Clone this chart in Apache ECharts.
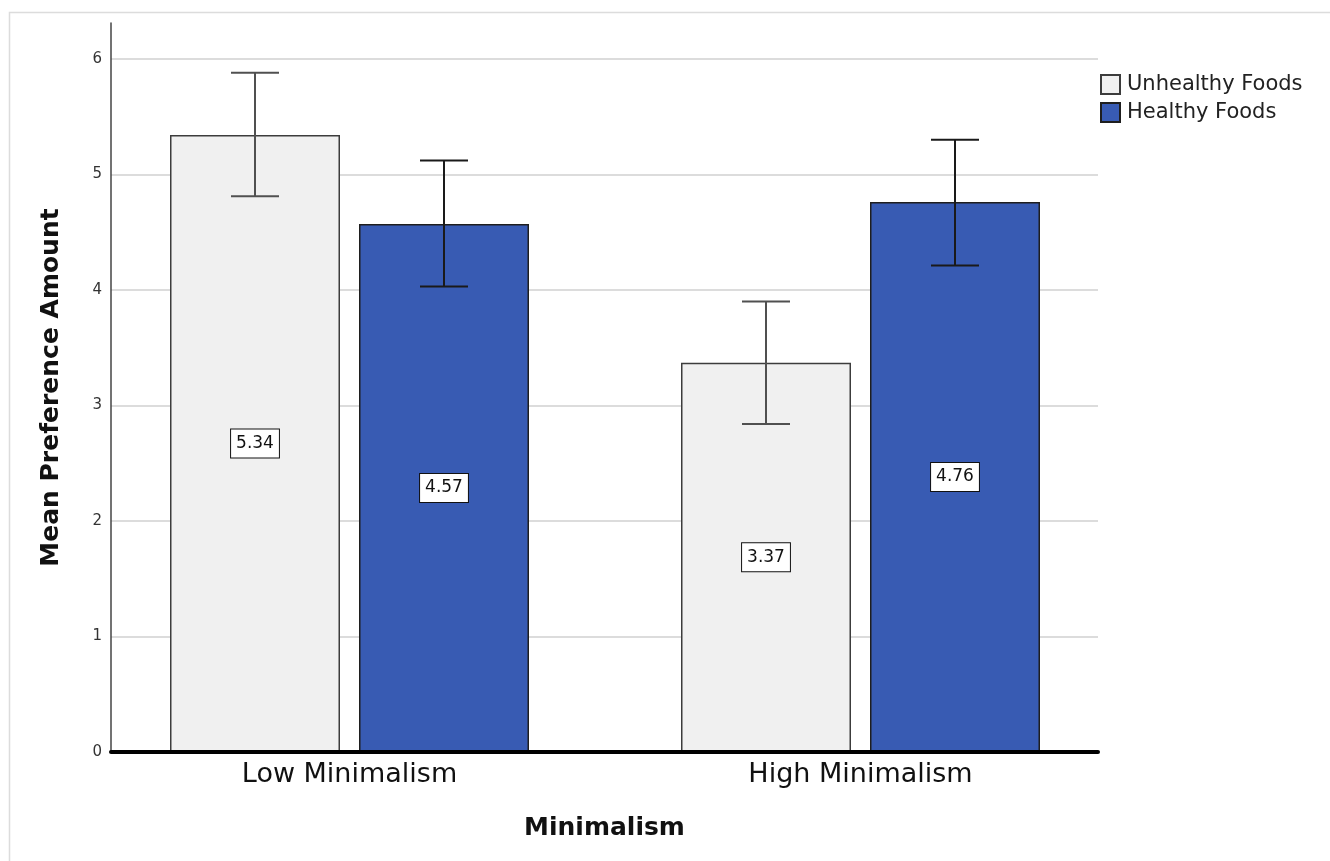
<!DOCTYPE html>
<html>
<head>
<meta charset="utf-8">
<script src="https://cdn.jsdelivr.net/npm/echarts@6/dist/echarts.min.js"></script>
<style>
html,body{margin:0;padding:0;background:#fff;}
#chart{width:1330px;height:861px;}
</style>
</head>
<body>
<div id="chart"></div>
<script>
// ---- data ----
const categories = ['Low Minimalism', 'High Minimalism'];
const seriesNames = ['Unhealthy Foods', 'Healthy Foods'];
const unhealthyMeans = [5.34, 3.37];
const healthyMeans = [4.57, 4.76];
const unhealthyLower = [4.81, 2.84];
const unhealthyUpper = [5.88, 3.90];
const healthyLower = [4.03, 4.21];
const healthyUpper = [5.12, 5.30];
const yTickValues = [0, 1, 2, 3, 4, 5, 6];

// ---- styles ----
const FONT = 'DejaVu Sans';
const BAR_W = 170;
const BAR_GAP = 19;
const Y_MAX = 6.31;
const colors = ['#f0f0f0', '#385bb3'];
const borderColors = ['#3c3c3c', '#1e1e1e'];
const errColors = ['#505050', '#1a1a1a'];

function errData(lower, upper) {
  return categories.map((c, i) => [i, lower[i], upper[i]]);
}

function errRender(offset, color) {
  return function (params, api) {
    const i = api.value(0);
    const lo = api.coord([i, api.value(1)]);
    const hi = api.coord([i, api.value(2)]);
    const x = lo[0] + offset;
    const cap = 24;
    const style = { stroke: color, lineWidth: 2 };
    return {
      type: 'group',
      children: [
        { type: 'line', shape: { x1: x, y1: hi[1], x2: x, y2: lo[1] }, style },
        { type: 'line', shape: { x1: x - cap, y1: hi[1], x2: x + cap, y2: hi[1] }, style },
        { type: 'line', shape: { x1: x - cap, y1: lo[1], x2: x + cap, y2: lo[1] }, style }
      ]
    };
  };
}

const labelStyle = {
  show: true,
  position: 'inside',
  formatter: p => p.value.toFixed(2),
  fontFamily: FONT,
  fontSize: 17,
  color: '#111',
  backgroundColor: '#ffffff',
  borderColor: '#111',
  borderWidth: 1,
  padding: [6, 5, 5, 5]
};

const chart = echarts.init(document.getElementById('chart'));
chart.setOption({
  animation: false,
  backgroundColor: '#ffffff',
  graphic: [{
    type: 'rect',
    shape: { x: 9.5, y: 12.5, width: 1400, height: 900 },
    style: { fill: 'none', stroke: '#dcdcdc', lineWidth: 1.5 },
    z: -10
  }],
  legend: {
    data: seriesNames,
    orient: 'vertical',
    left: 1095,
    top: 69,
    icon: 'rect',
    itemWidth: 19,
    itemHeight: 19,
    itemGap: 7,
    textStyle: { fontFamily: FONT, fontSize: 21, color: '#222', padding: [0, 0, 0, 2] }
  },
  grid: [
    { left: 94, right: 214, top: 23, bottom: 109 },
    { left: 111, right: 232, top: 23, bottom: 109 }
  ],
  xAxis: [
    {
      type: 'category', gridIndex: 0, data: categories,
      axisLine: { show: false }, axisTick: { show: false },
      axisLabel: { fontFamily: FONT, fontSize: 27, color: '#111', margin: 9 }
    },
    {
      type: 'value', gridIndex: 1, min: 0, max: 1, z: 10,
      axisLine: { show: true, lineStyle: { color: '#000', width: 4 } },
      axisTick: { show: false }, axisLabel: { show: false }, splitLine: { show: false },
      name: 'Minimalism', nameLocation: 'middle', nameGap: 64,
      nameTextStyle: { fontFamily: FONT, fontSize: 25, fontWeight: 'bold', color: '#111' }
    }
  ],
  yAxis: [
    { type: 'value', gridIndex: 0, min: 0, max: Y_MAX, interval: 1, show: false, splitLine: { show: false } },
    {
      type: 'value', gridIndex: 1, min: 0, max: Y_MAX, interval: 1,
      axisLine: { show: true, lineStyle: { color: '#444', width: 1.5 } },
      axisTick: { show: false },
      axisLabel: {
        fontFamily: FONT, fontSize: 15, color: '#333', margin: 9,
        formatter: v => (yTickValues.indexOf(v) >= 0 ? String(v) : '')
      },
      splitLine: { show: true, showMaxLine: false, lineStyle: { color: '#d0d0d0', width: 1.5 } },
      name: 'Mean Preference Amount', nameLocation: 'middle', nameGap: 47,
      nameTextStyle: { fontFamily: FONT, fontSize: 25, fontWeight: 'bold', color: '#111' }
    }
  ],
  series: [
    {
      name: seriesNames[0], type: 'bar', xAxisIndex: 0, yAxisIndex: 0,
      data: unhealthyMeans, barWidth: BAR_W, barGap: (BAR_GAP / BAR_W * 100) + '%',
      itemStyle: { color: colors[0], borderColor: borderColors[0], borderWidth: 1.5 },
      label: labelStyle
    },
    {
      name: seriesNames[1], type: 'bar', xAxisIndex: 0, yAxisIndex: 0,
      data: healthyMeans, barWidth: BAR_W,
      itemStyle: { color: colors[1], borderColor: borderColors[1], borderWidth: 1.5 },
      label: labelStyle
    },
    {
      type: 'custom', xAxisIndex: 0, yAxisIndex: 0, z: 5,
      renderItem: errRender(-(BAR_W + BAR_GAP) / 2, errColors[0]),
      data: errData(unhealthyLower, unhealthyUpper)
    },
    {
      type: 'custom', xAxisIndex: 0, yAxisIndex: 0, z: 5,
      renderItem: errRender((BAR_W + BAR_GAP) / 2, errColors[1]),
      data: errData(healthyLower, healthyUpper)
    }
  ]
});
</script>
</body>
</html>
